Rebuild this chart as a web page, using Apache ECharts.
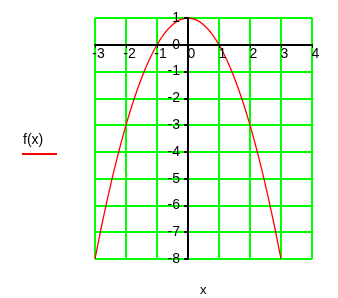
<!DOCTYPE html>
<html>
<head>
<meta charset="utf-8">
<script src="https://cdn.jsdelivr.net/npm/echarts@6/dist/echarts.min.js"></script>
<style>html,body{margin:0;padding:0;background:#fff}#c{width:338px;height:298px}</style>
</head>
<body>
<div id="c"></div>
<script>
var xValues = [-3, -2.75, -2.5, -2.25, -2, -1.75, -1.5, -1.25, -1, -0.75, -0.5, -0.25, 0, 0.25, 0.5, 0.75, 1, 1.25, 1.5, 1.75, 2, 2.25, 2.5, 2.75, 3];
var fValues = [-8, -6.5625, -5.25, -4.0625, -3, -2.0625, -1.25, -0.5625, 0, 0.4375, 0.75, 0.9375, 1, 0.9375, 0.75, 0.4375, 0, -0.5625, -1.25, -2.0625, -3, -4.0625, -5.25, -6.5625, -8];
var xTicks = [-3, -2, -1, 0, 1, 2, 3, 4];
var yTicks = [1, 0, -1, -2, -3, -4, -5, -6, -7, -8];
var seriesName = 'f(x)';
var xName = 'x';

var pts = xValues.map(function (x, i) { return [x, fValues[i]]; });
var font = 'Liberation Sans, Arial, sans-serif';
var W = 338, H = 298, gl = 95, gr = 26, gt = 18, gb = 39;
var xMin = xTicks[0], xMax = xTicks[xTicks.length - 1];
var yMin = yTicks[yTicks.length - 1], yMax = yTicks[0];
var gw = W - gl - gr, gh = H - gt - gb;
var xOff = -gh * (0 - yMin) / (yMax - yMin);
var yOff = -gw * (0 - xMin) / (xMax - xMin);
var chart = echarts.init(document.getElementById('c'), null, {renderer: 'canvas'});
var gridAxisX = {
  type: 'value', min: xMin, max: xMax, interval: 1, position: 'top', z: 1,
  axisLine: {show: false}, axisTick: {show: false}, axisLabel: {show: false},
  splitLine: {show: true, lineStyle: {color: '#00ff00', width: 2}}
};
var gridAxisY = {
  type: 'value', min: yMin, max: yMax, interval: 1, position: 'right', z: 1,
  axisLine: {show: false}, axisTick: {show: false}, axisLabel: {show: false},
  splitLine: {show: true, lineStyle: {color: '#00ff00', width: 2}}
};
chart.setOption({
  backgroundColor: '#fff',
  animation: false,
  grid: {left: gl, right: gr, top: gt, bottom: gb, containLabel: false},
  xAxis: [{
    type: 'value', min: xMin, max: xMax, interval: 1, position: 'bottom', offset: xOff, z: 4,
    axisLine: {onZero: false, lineStyle: {color: '#000', width: 2}},
    axisTick: {show: true, inside: false, length: 3, lineStyle: {color: '#000', width: 1}},
    axisLabel: {color: '#000', fontSize: 14, fontFamily: font, margin: 2, padding: [0, 0, 0, 7]},
    splitLine: {show: false}
  }, gridAxisX],
  yAxis: [{
    type: 'value', min: yMin, max: yMax, interval: 1, position: 'left', offset: yOff, z: 4,
    axisLine: {onZero: false, lineStyle: {color: '#000', width: 2}},
    axisTick: {show: true, inside: false, length: 4, lineStyle: {color: '#000', width: 2}},
    axisLabel: {color: '#000', fontSize: 14, fontFamily: font, margin: 8},
    splitLine: {show: false}
  }, gridAxisY],
  series: [{
    name: seriesName, type: 'line', data: pts, showSymbol: false, smooth: true,
    xAxisIndex: 0, yAxisIndex: 0,
    lineStyle: {color: '#ff0000', width: 1.3}, z: 3
  }],
  graphic: [
    {type: 'text', left: 23, top: 133, style: {text: seriesName, fill: '#000', font: '14px ' + font}},
    {type: 'line', shape: {x1: 22, y1: 154, x2: 57, y2: 154}, style: {stroke: '#ff0000', lineWidth: 2}},
    {type: 'text', left: 200, top: 284, style: {text: xName, fill: '#000', font: '13px ' + font}}
  ]
});
</script>
</body>
</html>
